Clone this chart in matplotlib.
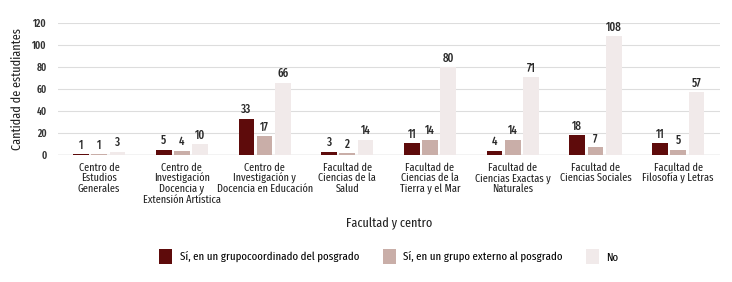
import numpy as np
import matplotlib
matplotlib.use("Agg")
import matplotlib.pyplot as plt

## data
categories = ["Centro de\nEstudios\nGenerales",
              "Centro de\nInvestigación\nDocencia y\nExtensión Artística",
              "Centro de\nInvestigación y\nDocencia en Educación",
              "Facultad de\nCiencias de la\nSalud",
              "Facultad de\nCiencias de la\nTierra y el Mar",
              "Facultad de\nCiencias Exactas y\nNaturales",
              "Facultad de\nCiencias Sociales",
              "Facultad de\nFilosofía y Letras"]
si_coordinado = [1, 5, 33, 3, 11, 4, 18, 11]
si_externo = [1, 4, 17, 2, 14, 14, 7, 5]
no = [3, 10, 66, 14, 80, 71, 108, 57]
series_names = ["Sí, en un grupocoordinado del posgrado",
                "Sí, en un grupo externo al posgrado",
                "No"]
colors = ["#5e0b0b", "#c9aea8", "#f1eaea"]

plt.rcParams['font.family'] = ['Fira Sans Extra Condensed', 'DejaVu Sans']

fig = plt.figure(figsize=(7.32, 2.82), dpi=100)
ax = fig.add_axes([0.079, 0.450, 0.904, 0.468])

x = np.arange(len(categories))
w = 0.19
step = 0.22
for i, (vals, c, name) in enumerate(zip([si_coordinado, si_externo, no], colors, series_names)):
	pos = x + (i - 1) * step
	ax.bar(pos, vals, width=w, color=c, label=name, zorder=3)
	for p, v in zip(pos, vals):
		ax.text(p, v + 2.5, str(v), ha="center", va="bottom", fontsize=8.5,
		        fontweight="medium", color="#2a2a2a")

ax.set_xlim(-0.5, len(categories) - 0.5)
ax.set_ylim(0, 120)
ax.set_yticks(range(0, 121, 20))
ax.grid(axis="y", color="#dddddd", linewidth=0.8, zorder=0)
ax.axhline(0, color="#cccccc", linewidth=1, zorder=2)
for s in ax.spines.values():
	s.set_visible(False)
ax.tick_params(length=0)
ax.set_xticks(x)
ax.set_xticklabels(categories, fontsize=8, color="#222222", linespacing=1.0)
ax.tick_params(axis="x", pad=5)
ax.tick_params(axis="y", labelsize=7.5, labelcolor="#333333", pad=8)
for t in ax.get_yticklabels():
	t.set_fontweight("semibold")
ax.set_ylabel("Cantidad de estudiantes", fontsize=9.5, color="#222222", labelpad=6)
ax.set_xlabel("Facultad y centro", fontsize=9.5, color="#222222", labelpad=9)

ax.legend(loc="center", bbox_to_anchor=(0.50, -0.77), ncol=3, frameon=False,
          fontsize=8.5, handlelength=1.1, handleheight=1.6, columnspacing=2.0,
          handletextpad=0.6)

fig.savefig("out.png", dpi=100, facecolor="white")
